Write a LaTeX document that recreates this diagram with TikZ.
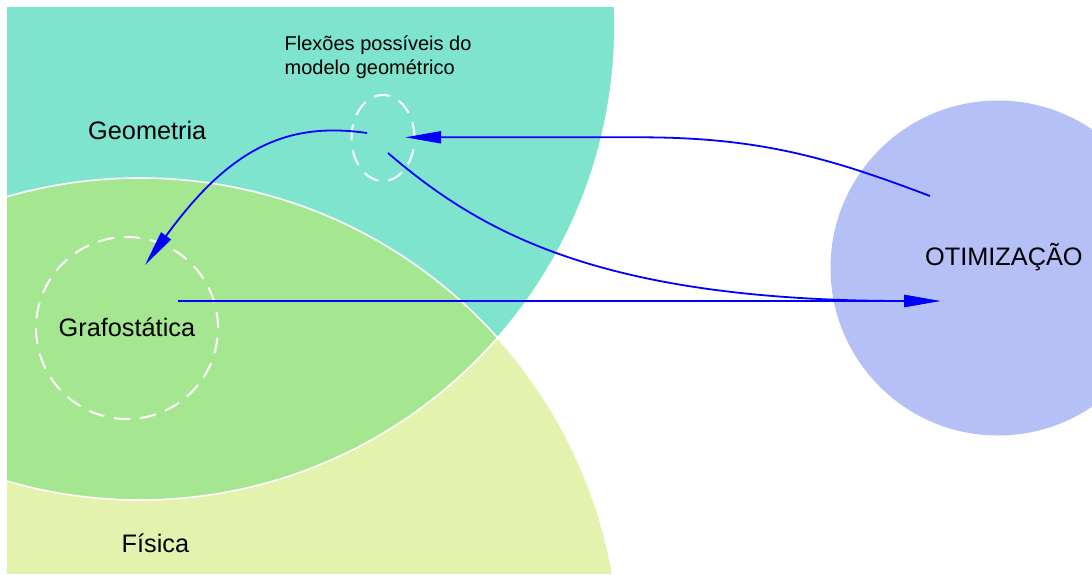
\documentclass[tikz,border=0pt]{standalone}
\usepackage{fontspec}
\setmainfont{Liberation Sans}
\usetikzlibrary{arrows.meta}
\definecolor{geocol}{RGB}{127,228,206}
\definecolor{grafcol}{RGB}{165,230,145}
\definecolor{fiscol}{RGB}{227,242,172}
\definecolor{otimcol}{RGB}{181,193,246}
\definecolor{arrowblue}{RGB}{0,0,255}
\begin{document}
\begin{tikzpicture}[x=1pt,y=-1pt,
  conn/.style={draw=arrowblue, line width=1.8pt, -{Triangle[length=36pt,width=12pt]}},
  seam/.style={draw=white, line width=1.6pt},
  outline/.style={draw=white, line width=2pt, dash pattern=on 16pt off 10pt},
  biglabel/.style={font=\fontsize{25.3}{30}\selectfont, anchor=base west, inner sep=0pt},
  smalllabel/.style={font=\fontsize{20}{24}\selectfont, anchor=base west, inner sep=0pt}]
\clip (0,0) rectangle (1092,574);
% Venn regions: Geometria (top), Fisica (bottom), overlap Grafostatica
\begin{scope}
  \clip (7,7) rectangle (720,573);
  \fill[fiscol] (140,658) circle[radius=480pt];
  \fill[geocol] (140,25) circle[radius=475pt];
  \begin{scope}
    \clip (140,658) circle[radius=480pt];
    \fill[grafcol] (140,25) circle[radius=475pt];
  \end{scope}
  \draw[seam] (140,658) circle[radius=480pt];
  \draw[seam] (140,25) circle[radius=475pt];
\end{scope}
% optimisation disc
\fill[otimcol] (998,268) circle[radius=167.5pt];
% dashed sub-regions
\draw[outline] (383,138) ellipse[x radius=31.5pt, y radius=43pt];
\draw[outline] (127,328) circle[radius=91pt];
% labels
\node[biglabel] (geo) at (88,139.5) {Geometria};
\node[biglabel] (graf) at (58.5,336.5) {Grafostática};
\node[biglabel] (fis) at (121.5,552) {Física};
\node[biglabel] (otim) at (925,265.5) {OTIMIZAÇÃO};
\node[smalllabel] (flex1) at (284.5,50) {Flexões possíveis do};
\node[smalllabel] (flex2) at (284.5,74) {modelo geométrico};
% connector end points
\coordinate (c1s) at (930,196);
\coordinate (c1e) at (405,137.3);
\coordinate (c2s) at (367,133);
\coordinate (c2e) at (145,265);
\coordinate (c3s) at (388,153);
\coordinate (c3e) at (940,301);
\coordinate (c4s) at (178,301);
% connectors
\draw[conn] (c1s) .. controls (830,158) and (760,137.3) .. (640,137.3) -- (c1e);
\draw[conn] (c2s) .. controls (290,122) and (232,145) .. (c2e);
\draw[conn] (c3s) .. controls (480,232) and (600,301) .. (c3e);
\draw[conn] (c4s) -- (c3e);
\end{tikzpicture}
\end{document}
